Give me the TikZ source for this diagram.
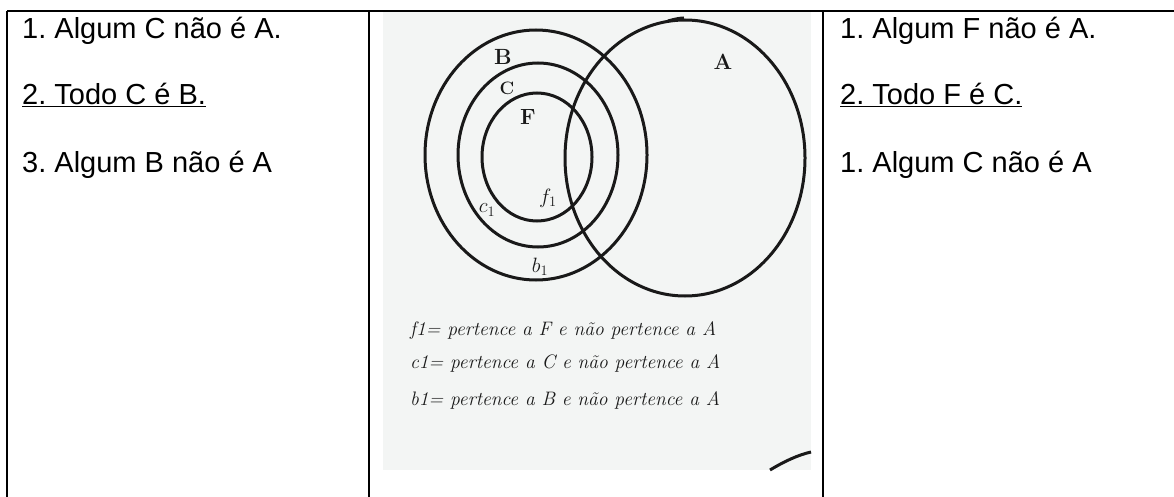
\documentclass[tikz,border=0pt]{standalone}
\usepackage{fontspec}
\setmainfont{Liberation Sans}
\newfontfamily\handfont{Latin Modern Roman}
\frenchspacing
\begin{document}
\begin{tikzpicture}[x=1pt,y=-1pt,
  rule/.style={line width=2pt,black},
  celltext/.style={anchor=base west,inner sep=0pt,font=\fontsize{29}{31}\selectfont},
  set/.style={line width=3pt,black!90},
  hand/.style={anchor=base west,inner sep=0pt,font=\handfont\itshape\fontsize{19.5}{22}\selectfont,text=black!90},
  lab/.style={inner sep=0pt,font=\handfont\fontsize{22}{24}\selectfont\bfseries,text=black!90}]
\useasboundingbox (0,0) rectangle (1174,497);
\fill[white] (0,0) rectangle (1174,497);
% photo background
\definecolor{photobg}{HTML}{F3F5F4}
\fill[photobg] (383,12) rectangle (811,470);
% table rules
\draw[rule] (7,11) -- (1174,11);
\draw[rule] (7,11) -- (7,497);
\draw[rule] (369,11) -- (369,497);
\draw[rule] (823,11) -- (823,497);
% left column
\node[celltext] (l1) at (22,39) {1. Algum C não é A.};
\node[celltext] (l2) at (22,105) {\underline{2. Todo C é B.}};
\node[celltext] (l3) at (22,173) {3. Algum B não é A};
% right column
\node[celltext] (r1) at (840,39) {1. Algum F não é A.};
\node[celltext] (r2) at (840,105) {\underline{2. Todo F é C.}};
\node[celltext] (r3) at (840,173) {1. Algum C não é A};
% sets
\draw[set] (536,155) ellipse [x radius=111, y radius=125];
\draw[set] (538,155) ellipse [x radius=80, y radius=92];
\draw[set] (537,157) ellipse [x radius=55, y radius=64];
\draw[set] (685,158) ellipse [x radius=120, y radius=138];
\draw[set] (668,21) .. controls (675,19) and (680,18) .. (684,18);
\draw[set] (770,470) .. controls (785,461) and (798,455) .. (811,452);
% labels
\node[lab] (tB) at (503,57) {B};
\node[lab,font=\handfont\fontsize{18}{20}\selectfont\bfseries] (tC) at (507,88) {C};
\node[lab] (tF) at (528,117) {F};
\node[lab] (tA) at (723,62) {A};
\node[lab] (tc1) at (487,210) {$c_1$};
\node[lab] (tf1) at (548,198) {$f_1$};
\node[lab] (tb1) at (540,267) {$b_1$};
% legend
\node[hand] (h1) at (410,335) {f1= pertence a F e não pertence a A};
\node[hand] (h2) at (410,368) {c1= pertence a C e não pertence a A};
\node[hand] (h3) at (410,405) {b1= pertence a B e não pertence a A};
\end{tikzpicture}
\end{document}
